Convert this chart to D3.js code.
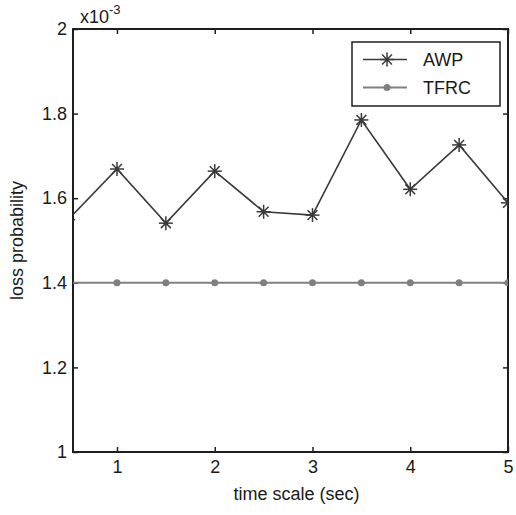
<!DOCTYPE html>
<html>
<head>
<meta charset="utf-8">
<script src="https://cdn.jsdelivr.net/npm/d3@7"></script>
<style>
  body { margin: 0; background: #fff; }
  text { font-family: "Liberation Sans", Arial, sans-serif; fill: #1a1a1a; }
</style>
</head>
<body>
<div id="chart"></div>
<script>
var margin = {top: 29, right: 8, bottom: 63, left: 73};
var width = 516 - margin.left - margin.right;
var height = 515 - margin.top - margin.bottom;

// data (loss probability in units of 1e-3)
var timeScale = [0.5, 1, 1.5, 2, 2.5, 3, 3.5, 4, 4.5, 5];
var awp = [1.549, 1.669, 1.541, 1.664, 1.568, 1.560, 1.785, 1.621, 1.726, 1.589];
var tfrc = [1.4, 1.4, 1.4, 1.4, 1.4, 1.4, 1.4, 1.4, 1.4, 1.4];
var xTicks = [1, 2, 3, 4, 5];
var yTicks = [1, 1.2, 1.4, 1.6, 1.8, 2];
var seriesNames = ['AWP', 'TFRC'];

var color_awp = '#3a3a3a';
var color_tfrc = '#808080';
var color_axis = '#1e1e1e';
var tick_len = 5;
var font_size = '18px';

var svg = d3.select('#chart')
    .append('svg')
        .attr('width', 516)
        .attr('height', 515)
    .append('g')
        .attr('transform', 'translate(' + margin.left + ',' + margin.top + ')');

var x_scale = d3.scaleLinear().domain([0.55, 5]).range([0, width]);
var y_scale = d3.scaleLinear().domain([1, 2]).range([height, 0]);

svg.append('clipPath').attr('id', 'plot-clip')
    .append('rect').attr('x', 0).attr('y', 0).attr('width', width).attr('height', height);

// ticks on all four sides, pointing in (matlab style)
var x_bottom = d3.axisBottom(x_scale).tickValues(xTicks).tickSize(-tick_len).tickPadding(8).tickFormat(d3.format('d'));
var x_top = d3.axisTop(x_scale).tickValues(xTicks).tickSize(-tick_len).tickFormat('');
var y_left = d3.axisLeft(y_scale).tickValues(yTicks).tickSize(-tick_len).tickPadding(6).tickFormat(function(d){ return d3.format('~g')(d); });
var y_right = d3.axisRight(y_scale).tickValues(yTicks).tickSize(-tick_len).tickFormat('');

function styleAxis(g){
    g.select('.domain').remove();
    g.selectAll('line').attr('stroke', color_axis).attr('stroke-width', 1.5);
    g.selectAll('text').style('font-size', font_size).attr('fill', color_axis);
}

svg.append('g').attr('transform', 'translate(0,' + height + ')').call(x_bottom).call(styleAxis);
svg.append('g').call(x_top).call(styleAxis);
svg.append('g').call(y_left).call(styleAxis);
svg.append('g').attr('transform', 'translate(' + width + ',0)').call(y_right).call(styleAxis);

svg.append('rect')
    .attr('x', 0).attr('y', 0)
    .attr('width', width).attr('height', height)
    .attr('fill', 'none')
    .attr('stroke', color_axis)
    .attr('stroke-width', 2);

var awpData = timeScale.map(function(t, i){ return {x: t, y: awp[i]}; });
var tfrcData = timeScale.map(function(t, i){ return {x: t, y: tfrc[i]}; });

var line = d3.line()
    .x(function(d){ return x_scale(d.x); })
    .y(function(d){ return y_scale(d.y); });

var plot = svg.append('g').attr('clip-path', 'url(#plot-clip)');

plot.append('path')
    .datum(tfrcData)
    .attr('d', line)
    .attr('fill', 'none')
    .attr('stroke', color_tfrc)
    .attr('stroke-width', 2);

plot.append('path')
    .datum(awpData)
    .attr('d', line)
    .attr('fill', 'none')
    .attr('stroke', color_awp)
    .attr('stroke-width', 1.6);

// asterisk marker
function star(g, r, col){
    [0, 45, 90, 135].forEach(function(a){
        var rad = a * Math.PI / 180;
        g.append('line')
            .attr('x1', -r * Math.cos(rad)).attr('y1', -r * Math.sin(rad))
            .attr('x2', r * Math.cos(rad)).attr('y2', r * Math.sin(rad))
            .attr('stroke', col).attr('stroke-width', 1.5);
    });
    g.append('circle').attr('r', 2).attr('fill', col);
}

plot.selectAll('.tfrc-dot')
    .data(tfrcData)
    .enter()
    .append('circle')
        .attr('class', 'tfrc-dot')
        .attr('cx', function(d){ return x_scale(d.x); })
        .attr('cy', function(d){ return y_scale(d.y); })
        .attr('r', 3.5)
        .attr('fill', color_tfrc);

plot.selectAll('.awp-star')
    .data(awpData)
    .enter()
    .append('g')
        .attr('class', 'awp-star')
        .attr('transform', function(d){ return 'translate(' + x_scale(d.x) + ',' + y_scale(d.y) + ')'; })
        .each(function(){ star(d3.select(this), 7, color_awp); });

// exponent label
var expo = svg.append('text')
    .attr('x', 7).attr('y', -6)
    .style('font-size', font_size);
expo.append('tspan').text('x10');
expo.append('tspan').attr('dy', -9).style('font-size', '13px').text('-3');

// legend
var legend = svg.append('g').attr('transform', 'translate(' + (352 - margin.left) + ',' + (42 - margin.top) + ')');
legend.append('rect')
    .attr('width', 148).attr('height', 64)
    .attr('fill', '#fff')
    .attr('stroke', color_axis)
    .attr('stroke-width', 1.5);

var legendRows = [
    {name: seriesNames[0], col: color_awp, w: 1.6},
    {name: seriesNames[1], col: color_tfrc, w: 2}
];
legendRows.forEach(function(s, i){
    var ly = 17.5 + i * 28;
    legend.append('line')
        .attr('x1', 11).attr('x2', 55)
        .attr('y1', ly).attr('y2', ly)
        .attr('stroke', s.col).attr('stroke-width', s.w);
    if(i === 0){
        star(legend.append('g').attr('transform', 'translate(35,' + ly + ')'), 7, s.col);
    } else {
        legend.append('circle').attr('cx', 35).attr('cy', ly).attr('r', 3.5).attr('fill', s.col);
    }
    legend.append('text')
        .attr('x', 71).attr('y', ly + 6.5)
        .style('font-size', font_size)
        .text(s.name);
});

// axis titles
svg.append('text')
    .attr('x', width / 2 + 6).attr('y', height + 48)
    .attr('text-anchor', 'middle')
    .style('font-size', font_size)
    .text('time scale (sec)');

svg.append('text')
    .attr('transform', 'translate(' + (23 - margin.left) + ',' + y_scale(1.5) + ')rotate(-90)')
    .attr('text-anchor', 'middle')
    .style('font-size', font_size)
    .text('loss probability');
</script>
</body>
</html>
